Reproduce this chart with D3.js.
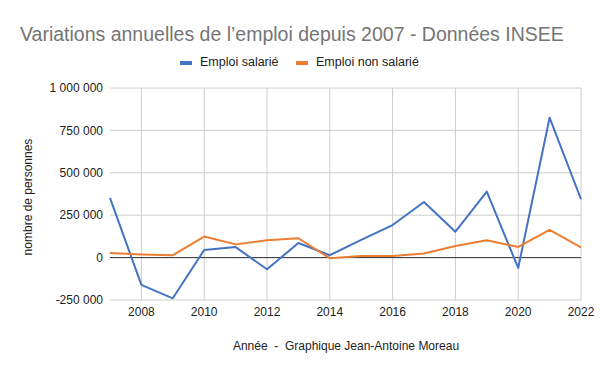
<!DOCTYPE html>
<html>
<head>
<meta charset="utf-8">
<script src="https://cdn.jsdelivr.net/npm/d3@7"></script>
<style>
  body { margin: 0; background: #fff; }
  svg { display: block; font-family: "Liberation Sans", Arial, sans-serif; }
</style>
</head>
<body>
<svg id="chart" width="600" height="371"></svg>
<script>
const years = [2007, 2008, 2009, 2010, 2011, 2012, 2013, 2014, 2015, 2016, 2017, 2018, 2019, 2020, 2021, 2022];
const salarie = [352000, -161000, -240000, 45000, 62000, -69000, 86000, 14000, 105000, 192000, 328000, 153000, 389000, -61000, 825000, 344000];
const nonSalarie = [27000, 19000, 14000, 124000, 78000, 102000, 114000, -4000, 10000, 9000, 24000, 68000, 102000, 63000, 163000, 61000];
const yTicks = [-250000, 0, 250000, 500000, 750000, 1000000];
const xTicks = [2008, 2010, 2012, 2014, 2016, 2018, 2020, 2022];
const seriesNames = ["Emploi salarié", "Emploi non salarié"];
const colors = ["#4472c4", "#ed7d31"];

const svg = d3.select("#chart");
const margin = { left: 110, right: 19, top: 88, bottom: 71 };
const width = 600, height = 371;

const x = d3.scaleLinear().domain([2007, 2022]).range([margin.left, width - margin.right]);
const y = d3.scaleLinear().domain([-250000, 1000000]).range([height - margin.bottom, margin.top]);

const fr = d3.formatLocale({ decimal: ",", thousands: " ", grouping: [3], currency: ["", " €"], minus: "-" });
const fmt = fr.format(",d");

// gridlines
svg.append("g")
    .selectAll("line")
    .data(yTicks)
    .enter().append("line")
    .attr("x1", margin.left)
    .attr("x2", width - margin.right)
    .attr("y1", d => y(d))
    .attr("y2", d => y(d))
    .attr("stroke", "#cccccc")
    .attr("stroke-width", 1);

svg.append("g")
    .selectAll("line")
    .data(xTicks)
    .enter().append("line")
    .attr("x1", d => x(d))
    .attr("x2", d => x(d))
    .attr("y1", y(1000000))
    .attr("y2", y(-250000))
    .attr("stroke", "#cccccc")
    .attr("stroke-width", 1);

// zero line
svg.append("line")
    .attr("x1", margin.left)
    .attr("x2", width - margin.right)
    .attr("y1", y(0))
    .attr("y2", y(0))
    .attr("stroke", "#333333")
    .attr("stroke-width", 1);

// y tick labels
svg.append("g")
    .selectAll("text")
    .data(yTicks)
    .enter().append("text")
    .attr("x", margin.left - 7)
    .attr("y", d => y(d))
    .attr("dy", "0.35em")
    .attr("text-anchor", "end")
    .attr("font-size", 12)
    .attr("fill", "#222")
    .text(d => fmt(d));

// x tick labels
svg.append("g")
    .selectAll("text")
    .data(xTicks)
    .enter().append("text")
    .attr("x", d => x(d))
    .attr("y", y(-250000) + 16)
    .attr("text-anchor", "middle")
    .attr("font-size", 12)
    .attr("fill", "#222")
    .text(d => d);

// lines
const line = d3.line()
    .x((d, i) => x(years[i]))
    .y(d => y(d));

[salarie, nonSalarie].forEach((s, i) => {
    svg.append("path")
        .datum(s)
        .attr("fill", "none")
        .attr("stroke", colors[i])
        .attr("stroke-width", 2)
        .attr("stroke-linejoin", "round")
        .attr("d", line);
});

// title
svg.append("text")
    .attr("x", 20)
    .attr("y", 41)
    .attr("font-size", 19.5)
    .attr("fill", "#757575")
    .text("Variations annuelles de l’emploi depuis 2007 - Données INSEE");

// legend
const legend = svg.append("g");
const legendX = [180, 296];
seriesNames.forEach((name, i) => {
    legend.append("rect")
        .attr("x", legendX[i])
        .attr("y", 61)
        .attr("width", 12)
        .attr("height", 4)
        .attr("fill", colors[i]);
    legend.append("text")
        .attr("x", legendX[i] + 20)
        .attr("y", 62)
        .attr("dy", "0.35em")
        .attr("font-size", 12.5)
        .attr("fill", "#222")
        .text(name);
});

// axis titles
svg.append("text")
    .attr("transform", "translate(32, 197) rotate(-90)")
    .attr("text-anchor", "middle")
    .attr("font-size", 12)
    .attr("fill", "#222")
    .text("nombre de personnes");

svg.append("text")
    .attr("x", 346)
    .attr("y", 350)
    .attr("text-anchor", "middle")
    .attr("font-size", 12)
    .attr("fill", "#222")
    .style("white-space", "pre")
    .text("Année  -  Graphique Jean-Antoine Moreau");
</script>
</body>
</html>
